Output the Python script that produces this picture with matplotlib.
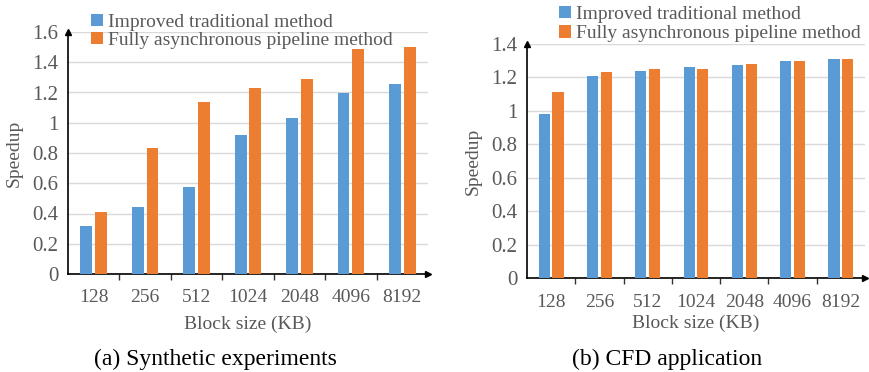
import numpy as np
import matplotlib.pyplot as plt

plt.rcParams['font.family'] = ['Liberation Serif', 'DejaVu Serif']

# Block sizes (KB) shared by both panels
block_sizes = ['128', '256', '512', '1024', '2048', '4096', '8192']

# (a) Synthetic experiments
synth_traditional = [0.32, 0.44, 0.575, 0.917, 1.029, 1.194, 1.256]
synth_async = [0.41, 0.83, 1.137, 1.228, 1.291, 1.488, 1.50]

# (b) CFD application
cfd_traditional = [0.98, 1.207, 1.237, 1.259, 1.271, 1.297, 1.308]
cfd_async = [1.112, 1.231, 1.247, 1.249, 1.277, 1.297, 1.310]

labels = ['Improved traditional method', 'Fully asynchronous pipeline method']
c_blue = '#5B9BD5'
c_orange = '#ED7D31'
c_text = '#595959'
c_grid = '#D9D9D9'
fs = 14

W, H = 869, 372
fig = plt.figure(figsize=(W / 100, H / 100), dpi=100)


def px_axes(x0, x1, ybot, ytop):
    return fig.add_axes([x0 / W, 1 - ybot / H, (x1 - x0) / W, (ybot - ytop) / H])


def draw_panel(ax, trad, asyn, ymax, yticks):
    x = np.arange(len(block_sizes))
    w = 0.23
    off = 0.143
    b1 = ax.bar(x - off, trad, w, color=c_blue, label=labels[0], zorder=3)
    b2 = ax.bar(x + off, asyn, w, color=c_orange, label=labels[1], zorder=3)

    ax.set_xlim(-0.5, len(block_sizes) - 0.5)
    ax.set_ylim(0, ymax)
    ax.set_yticks(yticks)
    ax.set_yticklabels(['0' if t == 0 else ('1' if abs(t - 1) < 1e-9 else f'{t:.1f}') for t in yticks])
    ax.yaxis.grid(True, color=c_grid, linewidth=1.0, zorder=0)
    ax.set_axisbelow(True)

    # category labels at centers, tick marks at boundaries
    ax.set_xticks(x)
    ax.set_xticklabels(block_sizes)
    ax.set_xticks(np.arange(0.5, len(block_sizes) - 0.5, 1.0), minor=True)
    ax.tick_params(axis='x', which='major', length=0, pad=11, labelsize=fs, labelcolor=c_text)
    ax.tick_params(axis='x', which='minor', length=4, width=1, color='#333333', direction='out')
    ax.tick_params(axis='y', length=0, pad=7, labelsize=15, labelcolor=c_text)

    for s in ['top', 'right']:
        ax.spines[s].set_visible(False)
    for s in ['left', 'bottom']:
        ax.spines[s].set_color('black')
        ax.spines[s].set_linewidth(1.2)

    # arrow heads on axes ends
    ax.plot(0, 1, '^', color='black', markersize=5, transform=ax.transAxes, clip_on=False, zorder=5)
    ax.plot(1, 0, '>', color='black', markersize=5, transform=ax.transAxes, clip_on=False, zorder=5)

    ax.set_ylabel('Speedup', fontsize=fs, color=c_text, labelpad=7)
    return b1, b2


ax1 = px_axes(68, 428, 274, 32)
h1 = draw_panel(ax1, synth_traditional, synth_async, 1.6, np.arange(0, 1.61, 0.2))
ax1.set_xlabel('Block size (KB)', fontsize=fs, color=c_text, labelpad=7)

ax2 = px_axes(527, 865, 278.3, 43.7)
h2 = draw_panel(ax2, cfd_traditional, cfd_async, 1.4, np.arange(0, 1.41, 0.2))
ax2.set_xlabel('Block size (KB)', fontsize=fs, color=c_text, labelpad=3)

leg_kw = dict(loc='upper left', frameon=False, fontsize=fs, labelcolor=c_text,
              handlelength=0.6, handleheight=0.6, handletextpad=0.3,
              borderpad=0, borderaxespad=0)
fig.legend(h1, labels, bbox_to_anchor=(91 / W, 1 - 14 / H), labelspacing=0.05, **leg_kw)
fig.legend(h2, labels, bbox_to_anchor=(559 / W, 1 - 6 / H), labelspacing=0.12, **leg_kw)

fig.text(215 / W, 1 - 359 / H, '(a) Synthetic experiments', ha='center', va='center',
         fontsize=17, color='black')
fig.text(667 / W, 1 - 359 / H, '(b) CFD application', ha='center', va='center',
         fontsize=17, color='black')

fig.savefig('out.png', dpi=100)
